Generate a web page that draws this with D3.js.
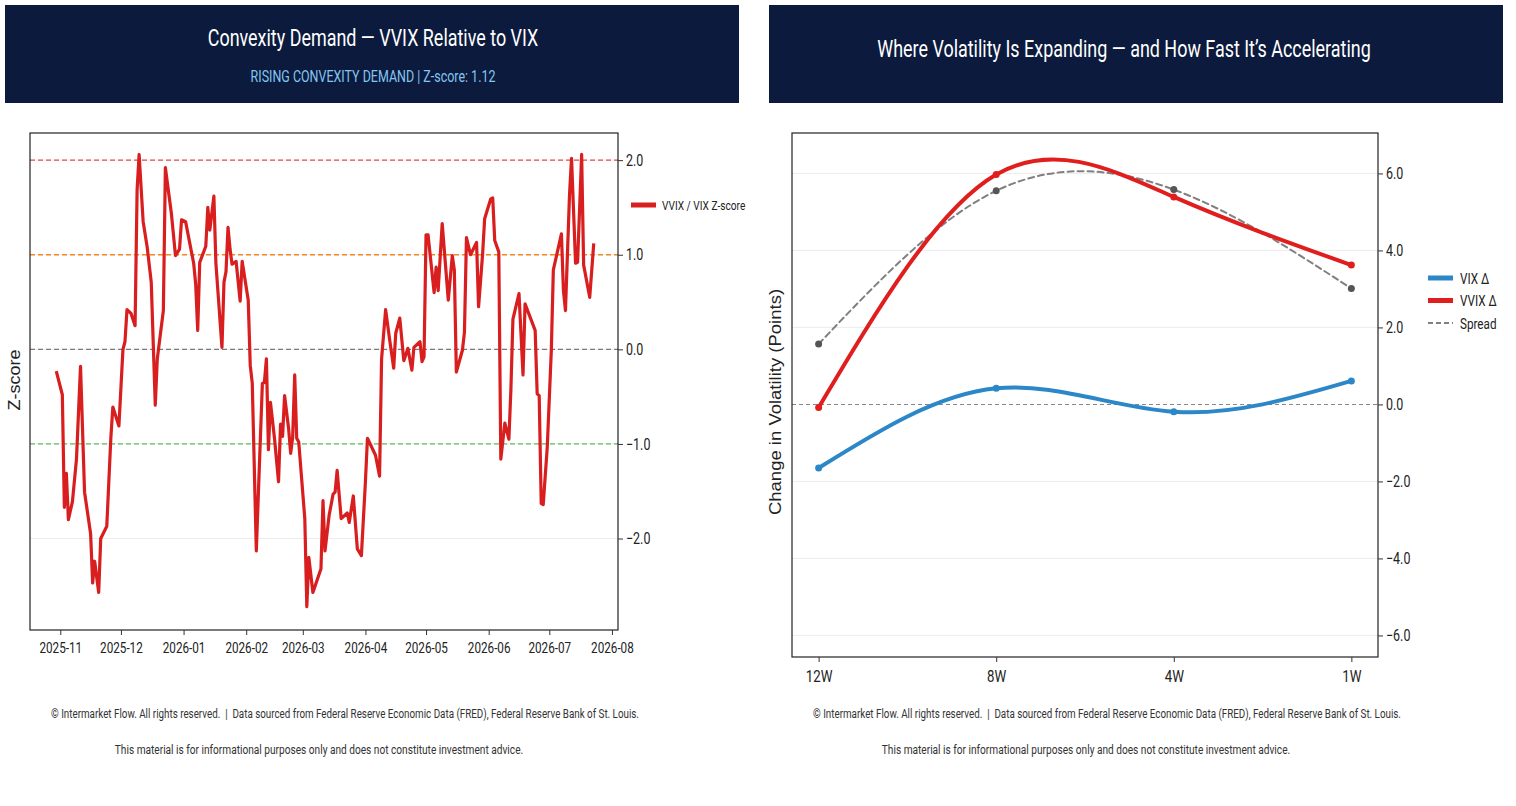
<!DOCTYPE html>
<html>
<head>
<meta charset="utf-8">
<title>Convexity Demand</title>
<script src="https://cdn.jsdelivr.net/npm/d3@7/dist/d3.min.js"></script>
<style>
  body { margin: 0; background: #ffffff; }
  svg text { font-family: Roboto, "Liberation Sans", sans-serif; fill: #222; white-space: pre; }
  .axis path { display: none; }
  .axis line { stroke: #333; }
  svg text.ylab { font-family: "Liberation Sans", Arial, sans-serif; }
</style>
</head>
<body>
<svg id="chart" width="1516" height="806"></svg>
<script>
// ---- left panel : VVIX / VIX z-score
var zDates = [
  "2025-10-30", "2025-11-02", "2025-11-03", "2025-11-04", "2025-11-05", "2025-11-07", "2025-11-09", "2025-11-11",
  "2025-11-13", "2025-11-16", "2025-11-17", "2025-11-18", "2025-11-20", "2025-11-21", "2025-11-24", "2025-11-26",
  "2025-11-27", "2025-11-30", "2025-12-02", "2025-12-03", "2025-12-04", "2025-12-06", "2025-12-08", "2025-12-09",
  "2025-12-10", "2025-12-12", "2025-12-14", "2025-12-16", "2025-12-18", "2025-12-19", "2025-12-22", "2025-12-23",
  "2025-12-26", "2025-12-28", "2025-12-30", "2025-12-31", "2026-01-02", "2026-01-06", "2026-01-07", "2026-01-08",
  "2026-01-09", "2026-01-12", "2026-01-13", "2026-01-14", "2026-01-16", "2026-01-17", "2026-01-20", "2026-01-21",
  "2026-01-22", "2026-01-23", "2026-01-24", "2026-01-25", "2026-01-27", "2026-01-29", "2026-01-30", "2026-02-02",
  "2026-02-03", "2026-02-04", "2026-02-06", "2026-02-09", "2026-02-10", "2026-02-11", "2026-02-12", "2026-02-13",
  "2026-02-15", "2026-02-17", "2026-02-18", "2026-02-19", "2026-02-20", "2026-02-22", "2026-02-23", "2026-02-24",
  "2026-02-25", "2026-02-26", "2026-02-27", "2026-03-02", "2026-03-03", "2026-03-04", "2026-03-06", "2026-03-10",
  "2026-03-11", "2026-03-12", "2026-03-14", "2026-03-16", "2026-03-17", "2026-03-18", "2026-03-20", "2026-03-23",
  "2026-03-24", "2026-03-26", "2026-03-28", "2026-03-30", "2026-04-01", "2026-04-02", "2026-04-06", "2026-04-08",
  "2026-04-09", "2026-04-11", "2026-04-13", "2026-04-15", "2026-04-16", "2026-04-18", "2026-04-20", "2026-04-22",
  "2026-04-24", "2026-04-25", "2026-04-28", "2026-04-29", "2026-04-30", "2026-05-01", "2026-05-02", "2026-05-05",
  "2026-05-06", "2026-05-07", "2026-05-09", "2026-05-12", "2026-05-14", "2026-05-15", "2026-05-16", "2026-05-19",
  "2026-05-20", "2026-05-21", "2026-05-23", "2026-05-26", "2026-05-27", "2026-05-29", "2026-05-30", "2026-06-02",
  "2026-06-03", "2026-06-04", "2026-06-06", "2026-06-07", "2026-06-09", "2026-06-11", "2026-06-12", "2026-06-13",
  "2026-06-16", "2026-06-18", "2026-06-19", "2026-06-24", "2026-06-25", "2026-06-26", "2026-06-27", "2026-06-28",
  "2026-06-30", "2026-07-02", "2026-07-03", "2026-07-07", "2026-07-08", "2026-07-09", "2026-07-11", "2026-07-12",
  "2026-07-14", "2026-07-15", "2026-07-17", "2026-07-18", "2026-07-21", "2026-07-23"
];
var zScores = [
  -0.23, -0.48, -1.67, -1.31, -1.80, -1.61, -1.16, -0.18,
  -1.51, -1.95, -2.47, -2.24, -2.57, -2.00, -1.87, -0.94,
  -0.61, -0.81, 0.00, 0.08, 0.42, 0.38, 0.25, 1.68,
  2.06, 1.35, 1.08, 0.71, -0.59, -0.10, 0.41, 1.92,
  1.43, 0.99, 1.06, 1.37, 1.35, 0.91, 0.69, 0.20,
  0.92, 1.09, 1.50, 1.26, 1.62, 0.91, 0.02, 0.71,
  0.82, 1.29, 1.06, 0.90, 0.93, 0.51, 0.93, 0.52,
  -0.17, -0.36, -2.13, -0.36, -0.35, -0.10, -1.06, -0.56,
  -0.94, -1.40, -0.79, -0.92, -0.49, -0.84, -1.10, -0.93,
  -0.27, -0.94, -0.98, -1.79, -2.72, -2.20, -2.57, -2.32,
  -1.60, -2.13, -1.76, -1.53, -1.51, -1.28, -1.79, -1.73,
  -1.83, -1.55, -2.11, -2.18, -1.40, -0.94, -1.12, -1.34,
  -0.10, 0.42, 0.10, -0.20, 0.17, 0.33, -0.12, 0.01,
  -0.22, 0.02, 0.08, -0.13, -0.08, 1.21, 1.21, 0.60,
  0.87, 0.62, 1.33, 0.52, 0.99, 0.84, -0.24, -0.01,
  0.18, 1.18, 1.00, 1.13, 0.45, 1.01, 1.38, 1.59,
  1.60, 1.15, 1.03, -1.16, -0.78, -0.95, -0.42, 0.32,
  0.59, -0.27, 0.48, 0.20, -0.47, -0.49, -1.63, -1.64,
  -1.03, -0.01, 0.84, 1.22, 0.62, 0.41, 1.63, 2.02,
  0.91, 0.92, 2.06, 0.89, 0.55, 1.12
];
var zTicks = [2, 1, 0, -1, -2];
var zLevels = [2, 1, 0, -1];
var zStatus = "RISING CONVEXITY DEMAND";

// ---- right panel : change over look-back horizons
var horizons = ["12W", "8W", "4W", "1W"];
var vixChange = [-1.65, 0.42, -0.19, 0.61];
var vvixChange = [-0.08, 5.97, 5.39, 3.62];
var spreadChange = [1.57, 5.55, 5.58, 3.01];
var volTicks = [6, 4, 2, 0, -2, -4, -6];

var footerLines = [
  "\u00a9 Intermarket Flow. All rights reserved.  |  Data sourced from Federal Reserve Economic Data (FRED), Federal Reserve Bank of St. Louis.",
  "This material is for informational purposes only and does not constitute investment advice."
];

var SX = 0.78; // narrow look of the lettering
var svg = d3.select("#chart");
var parseDay = d3.timeParse("%Y-%m-%d");
var fmt1 = d3.format(".1f");

function label(g, x, y, txt, size, anchor, rot, sx) {
  return g.append("text")
    .attr("transform", "translate(" + x + "," + y + ") scale(" + (sx || SX) + ",1)" + (rot ? " rotate(" + rot + ")" : ""))
    .attr("text-anchor", anchor || "middle")
    .style("font-size", size + "px")
    .text(txt);
}

function header(x0, w, cx, title, sub) {
  var g = svg.append("g").attr("class", "header");
  g.append("rect")
    .attr("x", x0).attr("y", 5)
    .attr("width", w).attr("height", 98)
    .attr("fill", "#0b1a3d");
  label(g, cx, sub ? 46 : 57, title, 23, "middle").style("fill", "#ffffff");
  if (sub) {
    label(g, cx, 82, sub, 16, "middle").style("fill", "#84c6f0");
  }
}

function squeezeTicks(axisG, dx) {
  axisG.selectAll("text")
    .attr("transform", "scale(" + SX + ",1)")
    .attr("x", dx == null ? null : dx / SX)
    .style("fill", "#222");
}

function footer(cx1, cx2) {
  var g = svg.append("g").attr("class", "footer");
  label(g, cx1, 718, footerLines[0], 12.6, "middle").style("fill", "#333");
  label(g, cx2, 754, footerLines[1], 13, "middle").style("fill", "#333");
}

// =========================== LEFT PANEL ===========================
header(5, 734, 373, "Convexity Demand \u2014 VVIX Relative to VIX", zStatus + " | Z-score: " + zScores[zScores.length - 1].toFixed(2));

var zSeries = zDates.map(function(d, i) {
  return { date: parseDay(d), value: zScores[i] };
});

var zx = d3.scaleTime()
  .domain([parseDay("2025-10-17"), parseDay("2026-08-04")])
  .range([30, 618]);
var zy = d3.scaleLinear()
  .domain([-2.967, 2.287])
  .range([630, 133]);

var left = svg.append("g").attr("class", "left-panel");

left.append("g")
  .attr("class", "grid")
  .selectAll("line")
  .data(zTicks)
  .enter()
  .append("line")
  .attr("x1", 30).attr("x2", 618)
  .attr("y1", function(d) { return zy(d); })
  .attr("y2", function(d) { return zy(d); })
  .attr("stroke", "#ececec")
  .attr("stroke-width", 1);

var levelColors = ["#ea4a4a", "#f28a24", "#7a7a7a", "#5cbf5c"];
left.append("g")
  .attr("class", "levels")
  .selectAll("line")
  .data(zLevels)
  .enter()
  .append("line")
  .attr("x1", 30).attr("x2", 618)
  .attr("y1", function(d) { return zy(d); })
  .attr("y2", function(d) { return zy(d); })
  .attr("stroke", function(d, i) { return levelColors[i]; })
  .attr("stroke-width", 1.3)
  .attr("stroke-dasharray", "5,3");

var zLine = d3.line()
  .x(function(d) { return zx(d.date); })
  .y(function(d) { return zy(d.value); });

left.append("path")
  .datum(zSeries)
  .attr("d", zLine)
  .attr("fill", "none")
  .attr("stroke", "#d81e1e")
  .attr("stroke-width", 3.2)
  .attr("stroke-linejoin", "round");

left.append("rect")
  .attr("x", 30).attr("y", 133)
  .attr("width", 588).attr("height", 497)
  .attr("fill", "none")
  .attr("stroke", "#222")
  .attr("stroke-width", 1.2);

var zyAxis = left.append("g")
  .attr("class", "axis")
  .attr("transform", "translate(618,0)")
  .call(d3.axisRight(zy).tickValues(zTicks).tickFormat(fmt1).tickSize(5).tickPadding(3));
zyAxis.selectAll("text").style("font-size", "16px");
squeezeTicks(zyAxis, 8);

var zxAxis = left.append("g")
  .attr("class", "axis")
  .attr("transform", "translate(0,630)")
  .call(d3.axisBottom(zx).ticks(d3.timeMonth.every(1)).tickFormat(d3.timeFormat("%Y-%m")).tickSize(5).tickPadding(7));
zxAxis.selectAll("text").style("font-size", "15px");
squeezeTicks(zxAxis, null);

label(left, 20, 380, "Z-score", 18, "middle", -90, 0.92).attr("class", "ylab");

var zLegend = left.append("g").attr("class", "legend");
zLegend.append("line")
  .attr("x1", 631).attr("x2", 656)
  .attr("y1", 205).attr("y2", 205)
  .attr("stroke", "#d81e1e")
  .attr("stroke-width", 5);
label(zLegend, 662, 209.5, "VVIX / VIX Z-score", 13, "start");

footer(345, 319);

// =========================== RIGHT PANEL ===========================
header(769, 734, 1124, "Where Volatility Is Expanding \u2014 and How Fast It\u2019s Accelerating", null);

var hx = d3.scaleLinear()
  .domain([-0.15, horizons.length - 1 + 0.15])
  .range([792, 1378]);
var vy = d3.scaleLinear()
  .domain([-6.56, 7.05])
  .range([657, 133]);

var right = svg.append("g").attr("class", "right-panel");

right.append("g")
  .attr("class", "grid")
  .selectAll("line")
  .data(volTicks.filter(function(d) { return d !== 0; }))
  .enter()
  .append("line")
  .attr("x1", 792).attr("x2", 1378)
  .attr("y1", function(d) { return vy(d); })
  .attr("y2", function(d) { return vy(d); })
  .attr("stroke", "#ececec")
  .attr("stroke-width", 1);

right.append("line")
  .attr("x1", 792).attr("x2", 1378)
  .attr("y1", vy(0)).attr("y2", vy(0))
  .attr("stroke", "#888")
  .attr("stroke-width", 1.1)
  .attr("stroke-dasharray", "4,3");

var curve = d3.line()
  .x(function(d, i) { return hx(i); })
  .y(function(d) { return vy(d); })
  .curve(d3.curveNatural);

var series = [
  { name: "Spread", values: spreadChange, color: "#808080", width: 2, dash: "6,4", dot: "#555" },
  { name: "VIX \u0394", values: vixChange, color: "#2b87c8", width: 4, dash: null, dot: "#2b87c8" },
  { name: "VVIX \u0394", values: vvixChange, color: "#e01e1e", width: 4, dash: null, dot: "#e01e1e" }
];

series.forEach(function(s) {
  right.append("path")
    .datum(s.values)
    .attr("d", curve)
    .attr("fill", "none")
    .attr("stroke", s.color)
    .attr("stroke-width", s.width)
    .attr("stroke-dasharray", s.dash)
    .attr("stroke-linecap", "round");
  right.append("g")
    .selectAll("circle")
    .data(s.values)
    .enter()
    .append("circle")
    .attr("cx", function(d, i) { return hx(i); })
    .attr("cy", function(d) { return vy(d); })
    .attr("r", 3.5)
    .attr("fill", s.dot);
});

right.append("rect")
  .attr("x", 792).attr("y", 133)
  .attr("width", 586).attr("height", 524)
  .attr("fill", "none")
  .attr("stroke", "#222")
  .attr("stroke-width", 1.2);

var vyAxis = right.append("g")
  .attr("class", "axis")
  .attr("transform", "translate(1378,0)")
  .call(d3.axisRight(vy).tickValues(volTicks).tickFormat(fmt1).tickSize(5).tickPadding(3));
vyAxis.selectAll("text").style("font-size", "16px");
squeezeTicks(vyAxis, 8);

var hxAxis = right.append("g")
  .attr("class", "axis")
  .attr("transform", "translate(0,657)")
  .call(d3.axisBottom(hx).tickValues(d3.range(horizons.length)).tickFormat(function(i) { return horizons[i]; }).tickSize(5).tickPadding(8));
hxAxis.selectAll("text").style("font-size", "17px");
squeezeTicks(hxAxis, null);

label(right, 781, 402, "Change in Volatility (Points)", 18.5, "middle", -90, 0.92).attr("class", "ylab");

// legend order as drawn in the reference
var legendOrder = [series[1], series[2], series[0]];
var vLegend = right.append("g").attr("class", "legend");
legendOrder.forEach(function(s, i) {
  var ly = 278 + i * 22.5;
  vLegend.append("line")
    .attr("x1", 1428).attr("x2", 1453)
    .attr("y1", ly).attr("y2", ly)
    .attr("stroke", s.color)
    .attr("stroke-width", s.dash ? 2 : 5)
    .attr("stroke-dasharray", s.dash ? "5,3" : null);
  label(vLegend, 1460, ly + 5.5, s.name, 15, "start");
});

footer(1107, 1086);
</script>
</body>
</html>
